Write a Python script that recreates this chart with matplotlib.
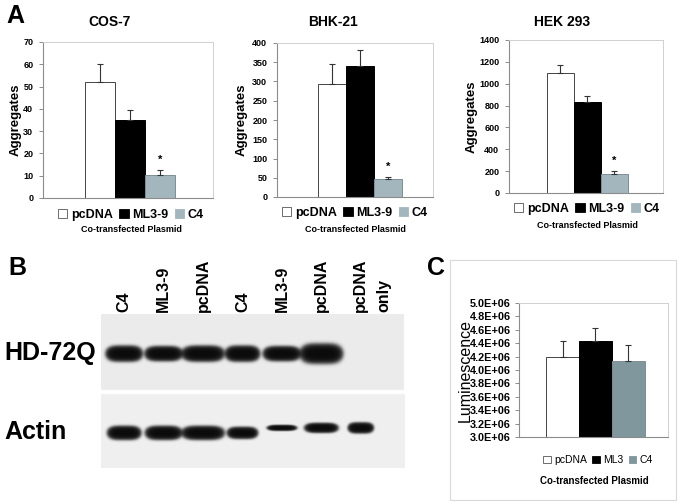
import numpy as np
import matplotlib
matplotlib.use("Agg")
import matplotlib.pyplot as plt
from matplotlib.patches import Patch, Rectangle

plt.rcParams['font.family'] = ['Liberation Sans', 'DejaVu Sans']

# ---------------- data ----------------
categories = ['pcDNA', 'ML3-9', 'C4']
cos7_values = [52, 35, 10.5]
cos7_errors = [8, 4.5, 2]
bhk21_values = [294, 340, 48]
bhk21_errors = [52, 41, 4]
hek293_values = [1095, 830, 175]
hek293_errors = [72, 60, 22]

lum_categories = ['pcDNA', 'ML3', 'C4']
lum_values = [4.19e6, 4.44e6, 4.135e6]
lum_errors = [0.24e6, 0.19e6, 0.24e6]
lum_ticks = [3.0e6, 3.2e6, 3.4e6, 3.6e6, 3.8e6, 4.0e6, 4.2e6, 4.4e6, 4.6e6, 4.8e6, 5.0e6]

blot_lanes = ['C4', 'ML3-9', 'pcDNA', 'C4', 'ML3-9', 'pcDNA', 'pcDNA\nonly']
hd_band_thickness = [16, 15, 16, 16, 15, 20, 0]
hd_band_width = [37, 38, 43, 35, 38, 43, 0]
actin_band_thickness = [14, 14, 14, 12, 6, 10, 11]
actin_band_width = [34, 37, 43, 31, 30, 34, 26]
actin_band_shift = [0, 0, 0, 0, -5, -5, -5]

# ---------------- layout helpers ----------------
W, H = 678, 504
fig = plt.figure(figsize=(W / 100, H / 100), dpi=100)
fig.patch.set_facecolor('white')


def ax_px(x0, y0, x1, y1):
    return fig.add_axes([x0 / W, 1 - y1 / H, (x1 - x0) / W, (y1 - y0) / H])


def ftext(x, y, s, **kw):
    return fig.text(x / W, 1 - y / H, s, **kw)


bar_colors_A = ['white', 'black', '#a3b6be']
bar_colors_C = ['white', 'black', '#7f979d']


def bar_panel(box, values, errors, colors, ylim, yticks, xlim, ticklabel_fmt,
              tick_fs, star=True, star_offset=4, tick_pad=4):
    ax = ax_px(*box)
    x = np.arange(len(values)) - 1
    ax.bar(x, values, width=1.0, color=colors, edgecolor=['#444444', 'black', '#7d8f96'],
           linewidth=0.7, zorder=2)
    ax.errorbar(x, values, yerr=[np.zeros(len(values)), errors], fmt='none',
                ecolor='#333333', elinewidth=0.8, capsize=2.5, capthick=0.8, zorder=3)
    if star:
        ax.annotate('*', (x[-1], values[-1] + errors[-1]), xytext=(0, star_offset),
                    textcoords='offset points', ha='center', va='bottom',
                    fontsize=8, fontweight='bold')
    ax.set_xlim(*xlim)
    ax.set_ylim(*ylim)
    ax.set_yticks(yticks)
    ax.set_yticklabels([ticklabel_fmt(v) for v in yticks], fontsize=tick_fs,
                       fontweight='bold')
    ax.set_xticks([])
    for s in ['top', 'right']:
        ax.spines[s].set_color('#d0d0d0')
        ax.spines[s].set_linewidth(0.7)
    for s in ['left', 'bottom']:
        ax.spines[s].set_color('#8c8c8c')
        ax.spines[s].set_linewidth(0.8)
    ax.tick_params(axis='y', length=3, width=0.7, color='#8c8c8c', pad=tick_pad)
    return ax


def legend_at(x, y, labels, colors, fs, weight):
    handles = [Patch(facecolor=c, edgecolor='#555555' if c == 'white' else c, linewidth=0.6)
               for c in colors]
    fig.legend(handles, labels, loc='center', bbox_to_anchor=(x / W, 1 - y / H),
               ncol=3, frameon=False, handlelength=0.75, handleheight=0.75,
               handletextpad=0.3, columnspacing=0.5, borderpad=0,
               prop={'size': fs, 'weight': weight})


# ---------------- Panel A ----------------
ftext(6, 16, 'A', fontsize=18, fontweight='bold', va='center', ha='left')

panels = [
    ((43, 42, 213, 198), cos7_values, cos7_errors, (0, 70), range(0, 71, 10),
     (-2.9, 2.75), 'COS-7', 110, 16, 215, 230, 131),
    ((277, 43, 433, 197), bhk21_values, bhk21_errors, (0, 400), range(0, 401, 50),
     (-2.95, 2.6), 'BHK-21', 333, 242, 213, 230, 355),
    ((509, 40, 663, 193), hek293_values, hek293_errors, (0, 1400), range(0, 1401, 200),
     (-2.9, 2.8), 'HEK 293', 562, 472, 209, 226, 587),
]
for box, vals, errs, ylim, yt, xl, title, tx, lx, legy, coy, legx in panels:
    ax = bar_panel(box, vals, errs, bar_colors_A, ylim, list(yt), xl,
                   lambda v: f'{v:g}', 6.5)
    ftext(tx, 22, title, fontsize=10, fontweight='bold', ha='center', va='center')
    ftext(lx, (box[1] + box[3]) / 2, 'Aggregates', fontsize=9.5, fontweight='bold',
          rotation=90, ha='center', va='center')
    legend_at(legx, legy, categories, bar_colors_A, 9, 'bold')
    ftext(legx, coy, 'Co-transfected Plasmid', fontsize=6.5, fontweight='bold',
          ha='center', va='center')

# ---------------- Panel B (western blot) ----------------
ftext(8, 268, 'B', fontsize=18, fontweight='bold', va='center', ha='left')
bx0, by0, bx1, by1 = 101, 314, 405, 468
axb = ax_px(bx0, by0, bx1, by1)
xs = np.linspace(bx0, bx1, 608)
ys = np.linspace(by0, by1, 308)
X, Y = np.meshgrid(xs, ys)
img = np.ones_like(X)
top_blot = (Y >= 314) & (Y <= 390) & (X <= 404)
bot_blot = (Y >= 394) & (Y <= 468)
img[top_blot] = 0.925
img[bot_blot] = 0.94
lane_x = 124 + 39.5 * np.arange(len(blot_lanes))


def add_band(img, cx, cy, w, t):
    if w <= 0 or t <= 0:
        return img
    d = (np.abs(X - cx) / (w / 2)) ** 4 + ((Y - cy) / (t / 2)) ** 2
    band = 1 / (1 + np.exp(4 * (d - 1)))
    return img * (1 - 0.97 * band)


for i in range(len(blot_lanes)):
    img = add_band(img, lane_x[i], 353.5, hd_band_width[i], hd_band_thickness[i])
    img = add_band(img, lane_x[i], 433 + actin_band_shift[i], actin_band_width[i],
                   actin_band_thickness[i])

axb.imshow(img, cmap='gray', vmin=0, vmax=1, extent=(bx0, bx1, by1, by0),
           aspect='auto', interpolation='bilinear')
axb.set_xlim(bx0, bx1)
axb.set_ylim(by1, by0)
axb.axis('off')

for i, lab in enumerate(blot_lanes):
    xx = lane_x[i] + (11 if '\n' in lab else 0)
    ftext(xx, 312, lab, rotation=90, fontsize=11.5, fontweight='bold', ha='center',
          va='bottom', multialignment='left', linespacing=1.75)

ftext(4, 353, 'HD-72Q', fontsize=18, fontweight='bold', ha='left', va='center')
ftext(4, 432, 'Actin', fontsize=18, fontweight='bold', ha='left', va='center')

# ---------------- Panel C ----------------
ftext(427, 268, 'C', fontsize=18, fontweight='bold', va='center', ha='left')
fig.patches.append(Rectangle((450 / W, 1 - 500 / H), (676 - 450) / W, (500 - 260) / H,
                             transform=fig.transFigure, fill=False,
                             edgecolor='#d9d9d9', linewidth=0.8))
axc = bar_panel((519, 303, 668, 437), lum_values, lum_errors, bar_colors_C,
                (3.0e6, 5.0e6), lum_ticks, (-2.32, 2.2),
                lambda v: f'{v / 1e6:.1f}E+06', 7.8, star=False, tick_pad=3)
ftext(465, 370, 'Luminescence', fontsize=11.5, rotation=90, ha='center', va='center')
legend_at(598, 460, lum_categories, bar_colors_C, 7.5, 'normal')
ftext(594, 481, 'Co-transfected Plasmid', fontsize=7, fontweight='bold',
      ha='center', va='center')

fig.savefig('out.png', dpi=100, facecolor='white')
